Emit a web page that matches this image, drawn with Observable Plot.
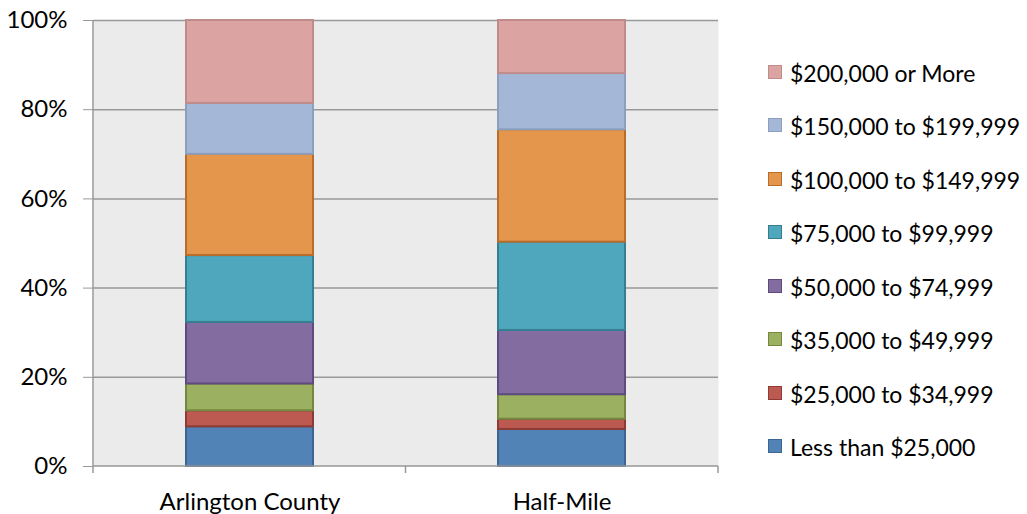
<!DOCTYPE html>
<html>
<head>
<meta charset="utf-8">
<script src="https://cdn.jsdelivr.net/npm/d3@7"></script>
<script src="https://cdn.jsdelivr.net/npm/@observablehq/plot@0.6"></script>
<style>
  html, body { margin: 0; padding: 0; background: white; }
  #wrap { position: relative; width: 1027px; height: 514px; overflow: hidden; font-family: Lato, sans-serif; }
  #legend { position: absolute; left: 768px; top: 0; }
  .item { position: absolute; left: 0; white-space: nowrap; font-size: 23px; color: #000; }
  .sw { position: absolute; left: 0; width: 12px; height: 12px; border: 1.5px solid; }
  .lbl { position: absolute; left: 22px; line-height: 24px; }
</style>
</head>
<body>
<div id="wrap"><div id="legend"></div></div>
<script>
const categories = ["Arlington County", "Half-Mile"];
const brackets = [
  "Less than $25,000",
  "$25,000 to $34,999",
  "$35,000 to $49,999",
  "$50,000 to $74,999",
  "$75,000 to $99,999",
  "$100,000 to $149,999",
  "$150,000 to $199,999",
  "$200,000 or More"
];
const arlington = [8.9, 3.6, 6.0, 13.8, 15.0, 22.7, 11.4, 18.6];
const halfMile  = [8.3, 2.3, 5.5, 14.4, 19.8, 25.2, 12.6, 11.9];
const fills   = ["#5183B7", "#BC5A52", "#9BB061", "#836CA0", "#4EA7BC", "#E4964C", "#A4B7D7", "#DBA3A2"];
const strokes = ["#3C6594", "#8E3A35", "#76883F", "#5E4A7C", "#357F91", "#B86E2A", "#8C9FBF", "#C08C8B"];
const yTicks = [0, 20, 40, 60, 80, 100];

const series = [arlington, halfMile];
const data = [];
categories.forEach((c, i) => brackets.forEach((b, j) => data.push({category: c, bracket: b, value: series[i][j]})));

const W = 1027, H = 514, mL = 93, mR = 309, mT = 20, mB = 48;

const axisLines = (index, scales, values, dims) => {
  const g = d3.create("svg:g");
  const step = (dims.width - dims.marginLeft - dims.marginRight) / categories.length;
  const y0 = scales.y(0), y1 = scales.y(100);
  const xl = dims.marginLeft, xr = dims.width - dims.marginRight;
  g.append("line").attr("x1", xl).attr("x2", xl).attr("y1", y1).attr("y2", y0 + 7)
    .attr("stroke", "#999").attr("stroke-width", 1.5);
  g.append("line").attr("x1", xl).attr("x2", xr).attr("y1", y0).attr("y2", y0)
    .attr("stroke", "#999").attr("stroke-width", 1.5);
  for (let i = 1; i <= categories.length; i++) {
    const x = xl + i * step;
    g.append("line").attr("x1", x).attr("x2", x).attr("y1", y0).attr("y2", y0 + 7)
      .attr("stroke", "#999").attr("stroke-width", 1.5);
  }
  return g.node();
};

const chart = Plot.plot({
  width: W, height: H,
  marginLeft: mL, marginRight: mR, marginTop: mT, marginBottom: mB,
  style: {fontFamily: "Lato, sans-serif", fontSize: "24px", color: "#000", background: "white"},
  x: {domain: categories, paddingInner: 0.594, paddingOuter: 0.297, label: null},
  y: {domain: [0, 100], label: null},
  color: {domain: brackets, range: fills},
  marks: [
    Plot.frame({fill: "#EBEBEB", stroke: null}),
    Plot.ruleY(yTicks.filter(d => d > 0), {y: d => d, stroke: "#999", strokeWidth: 1.5}),
    Plot.barY(data, {
      x: "category", y: "value", fill: "bracket",
      stroke: d => strokes[brackets.indexOf(d.bracket)], strokeWidth: 2,
      order: null, inset: 0
    }),
    axisLines,
    Plot.axisY({ticks: yTicks, tickFormat: d => d + "%", tickSize: 10, tickPadding: 16, stroke: "#999", fill: "#000", fontSize: 24, label: null}),
    Plot.axisX({tickSize: 0, tickPadding: 26, fill: "#000", fontSize: 24, label: null})
  ]
});

const wrap = document.getElementById("wrap");
wrap.insertBefore(chart, wrap.firstChild);

const legend = document.getElementById("legend");
const rowCenter0 = 72, rowStep = 53.5;
brackets.slice().reverse().forEach((b, k) => {
  const j = brackets.indexOf(b);
  const cy = rowCenter0 + k * rowStep;
  const item = document.createElement("div");
  item.className = "item";
  item.style.top = (cy - 7.5) + "px";
  const sw = document.createElement("div");
  sw.className = "sw";
  sw.style.background = fills[j];
  sw.style.borderColor = strokes[j];
  const lbl = document.createElement("div");
  lbl.className = "lbl";
  lbl.style.top = "-4px";
  lbl.textContent = b;
  item.appendChild(sw);
  item.appendChild(lbl);
  legend.appendChild(item);
});
</script>
</body>
</html>
